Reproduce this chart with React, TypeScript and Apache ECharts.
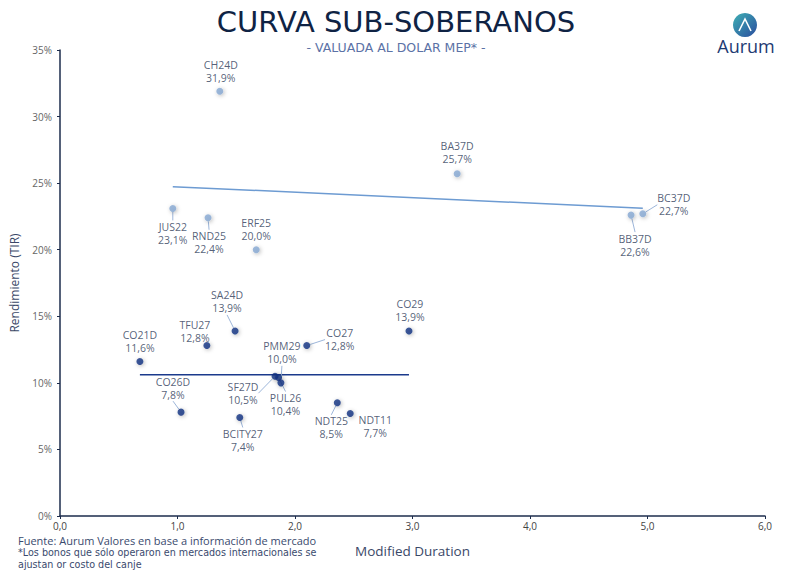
import React, { useEffect, useRef } from "react";
import * as echarts from "echarts";

// Light-blue series (hard-dollar / international)
const names1 = ["CH24D", "JUS22", "RND25", "ERF25", "BA37D", "BB37D", "BC37D"];
const dur1 = [1.36, 0.96, 1.26, 1.67, 3.38, 4.86, 4.96];
const tir1 = [31.9, 23.1, 22.4, 20.0, 25.7, 22.6, 22.7];

// Dark-blue series
const names2 = ["CO21D", "TFU27", "SA24D", "CO26D", "BCITY27", "SF27D", "PUL26", "PMM29", "CO27", "NDT25", "NDT11", "CO29"];
const dur2 = [0.68, 1.25, 1.49, 1.03, 1.53, 1.83, 1.86, 1.88, 2.10, 2.36, 2.47, 2.97];
const tir2 = [11.6, 12.8, 13.9, 7.8, 7.4, 10.5, 10.4, 10.0, 12.8, 8.5, 7.7, 13.9];

const xTicks = [0, 1, 2, 3, 4, 5, 6];
const yTicks = [0, 5, 10, 15, 20, 25, 30, 35];

// label placement (style only)
const labelPos: Record<string, { dx: number; dy: number; line: boolean }> = {
  CH24D: { dx: 1, dy: -20, line: false },
  JUS22: { dx: 0, dy: 25, line: true },
  RND25: { dx: 1, dy: 25, line: true },
  ERF25: { dx: 0, dy: -20, line: false },
  BA37D: { dx: 0, dy: -21, line: false },
  BB37D: { dx: 4, dy: 30, line: true },
  BC37D: { dx: 31, dy: -9, line: true },
  CO21D: { dx: 0, dy: -20, line: false },
  TFU27: { dx: -12, dy: -14, line: false },
  SA24D: { dx: -8, dy: -29, line: true },
  CO26D: { dx: -8, dy: -24, line: true },
  BCITY27: { dx: 3, dy: 23, line: true },
  SF27D: { dx: -32, dy: 17, line: true },
  PUL26: { dx: 7, dy: 27, line: true },
  PMM29: { dx: 1, dy: -30, line: true },
  CO27: { dx: 33, dy: -6, line: true },
  NDT25: { dx: -6, dy: 25, line: true },
  NDT11: { dx: 25, dy: 13, line: false },
  CO29: { dx: 1, dy: -20, line: false },
};

const fmtPct = (v: number) => v.toFixed(1).replace(".", ",") + "%";

function regression(xs: number[], ys: number[]) {
  const n = xs.length;
  const mx = xs.reduce((a, b) => a + b, 0) / n;
  const my = ys.reduce((a, b) => a + b, 0) / n;
  let sxy = 0, sxx = 0;
  for (let i = 0; i < n; i++) {
    sxy += (xs[i] - mx) * (ys[i] - my);
    sxx += (xs[i] - mx) * (xs[i] - mx);
  }
  const b = sxy / sxx;
  const a = my - b * mx;
  const x0 = Math.min(...xs), x1 = Math.max(...xs);
  return [[x0, a + b * x0], [x1, a + b * x1]];
}

function meanLine(xs: number[], ys: number[]) {
  const my = ys.reduce((a, b) => a + b, 0) / ys.length;
  return [[Math.min(...xs), my], [Math.max(...xs), my]];
}

const FONT = "'Open Sans', Lato, sans-serif";
const TFONT = "'DejaVu Sans', 'Open Sans', sans-serif";
const TXT = "#2a3756";

function makeScatter(names: string[], xs: number[], ys: number[], color: string) {
  return {
    type: "scatter",
    symbolSize: 7,
    z: 5,
    itemStyle: { color, shadowBlur: 4, shadowColor: "rgba(0,0,0,0.35)", shadowOffsetX: 1, shadowOffsetY: 1 },
    data: names.map((n, i) => ({
      value: [xs[i], ys[i]],
      name: n,
      labelLine: { show: labelPos[n].line },
    })),
    label: {
      show: true,
      formatter: (p: any) => `${p.name}\n${fmtPct(p.value[1])}`,
      fontSize: 10.5,
      lineHeight: 13,
      color: TXT,
      fontFamily: FONT,
      align: "center",
    },
    labelLine: { show: true, lineStyle: { color: "#9db6da", width: 1 } },
    labelLayout: (params: any) => {
      const n = names[params.dataIndex];
      const p = labelPos[n];
      const r = params.rect;
      return {
        x: r.x + r.width / 2 + p.dx,
        y: r.y + r.height / 2 + p.dy,
        align: "center",
        verticalAlign: "middle",
      };
    },
  };
}

export default function App() {
  const ref = useRef<HTMLDivElement>(null);
  useEffect(() => {
    if (!ref.current) return;
    const chart = echarts.init(ref.current, undefined, { renderer: "svg" });
    const trend1 = regression(dur1, tir1);
    const trend2 = meanLine(dur2, tir2);
    chart.setOption({
      animation: false,
      backgroundColor: "#ffffff",
      title: [
        {
          text: "CURVA SUB-SOBERANOS",
          left: "center",
          top: 7,
          padding: 0,
          textStyle: { fontSize: 29, lineHeight: 30, fontWeight: "normal", color: "#0f2344", fontFamily: TFONT },
        },
        {
          text: "- VALUADA AL DOLAR MEP* -",
          left: "center",
          top: 40,
          padding: 0,
          textStyle: { fontSize: 12.5, lineHeight: 14, fontWeight: "normal", color: "#5b72a6", fontFamily: TFONT },
        },
      ],
      grid: { left: 57, right: 27, top: 50, bottom: 57 },
      xAxis: {
        type: "value",
        min: xTicks[0],
        max: xTicks[xTicks.length - 1],
        interval: 1,
        name: "Modified Duration",
        nameLocation: "middle",
        nameGap: 28,
        nameTextStyle: { fontSize: 13.5, color: "#3a4868", fontFamily: FONT },
        axisLine: { lineStyle: { color: "#1c2c4c", width: 1.5 } },
        axisTick: { show: true, length: 3, lineStyle: { color: "#1c2c4c" } },
        axisLabel: { fontSize: 10, lineHeight: 12, color: "#444", fontFamily: FONT, margin: 4, formatter: (v: number) => v.toFixed(1).replace(".", ",") },
        splitLine: { show: false },
      },
      yAxis: {
        type: "value",
        min: yTicks[0],
        max: yTicks[yTicks.length - 1],
        interval: 5,
        name: "Rendimiento (TIR)",
        nameLocation: "middle",
        nameGap: 40,
        nameTextStyle: { fontSize: 12, color: "#3a4868", fontFamily: FONT },
        axisLine: { show: true, lineStyle: { color: "#1c2c4c", width: 1.5 } },
        axisTick: { show: true, length: 3, lineStyle: { color: "#1c2c4c" } },
        axisLabel: { fontSize: 10, color: "#666", fontFamily: FONT, margin: 8, formatter: "{value}%" },
        splitLine: { show: false },
      },
      series: [
        {
          type: "line",
          data: trend1,
          symbol: "none",
          lineStyle: { color: "#6d9bd2", width: 1.5 },
          silent: true,
          z: 2,
        },
        {
          type: "line",
          data: trend2,
          symbol: "none",
          lineStyle: { color: "#1b3a8c", width: 1.5 },
          silent: true,
          z: 2,
        },
        makeScatter(names1, dur1, tir1, "#86a7d2"),
        makeScatter(names2, dur2, tir2, "#102f80"),
      ],
      graphic: [
        {
          type: "text",
          x: 18,
          y: 540.5,
          style: { text: "Fuente: Aurum Valores en base a información de mercado", fontSize: 11, lineHeight: 11, fill: "#3a4a6e", fontFamily: FONT, verticalAlign: "middle" },
        },
        {
          type: "text",
          x: 18,
          y: 552.5,
          style: { text: "*Los bonos que sólo operaron en mercados internacionales se", fontSize: 9.6, lineHeight: 11, fill: "#3a4a6e", fontFamily: TFONT, verticalAlign: "middle" },
        },
        {
          type: "text",
          x: 18,
          y: 564,
          style: { text: "ajustan or costo del canje", fontSize: 9.6, lineHeight: 11, fill: "#3a4a6e", fontFamily: TFONT, verticalAlign: "middle" },
        },
        {
          type: "circle",
          shape: { cx: 745, cy: 25, r: 12 },
          style: {
            fill: new echarts.graphic.LinearGradient(0, 0, 1, 1, [
              { offset: 0, color: "#3fb0b4" },
              { offset: 1, color: "#2a4d9e" },
            ]),
          },
        },
        {
          type: "polyline",
          shape: { points: [[739, 31], [745, 19], [751, 31]] },
          style: { stroke: "#ffffff", lineWidth: 1.6, fill: "none" },
        },
        {
          type: "text",
          x: 746,
          y: 46,
          style: { text: "Aurum", fontSize: 18, fill: "#1d3a72", fontFamily: FONT, align: "center", verticalAlign: "middle" },
        },
      ],
    });
    return () => chart.dispose();
  }, []);
  return <div ref={ref} style={{ position: "fixed", left: 0, top: 0, width: 792, height: 573 }} />;
}
